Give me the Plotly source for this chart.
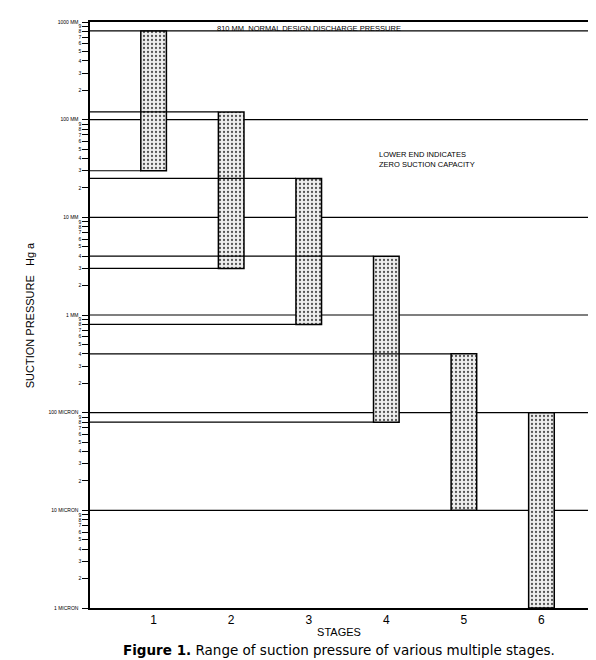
import numpy as np
import plotly.graph_objects as go

# pressure ranges per stage, in mm Hg abs
stages = [1, 2, 3, 4, 5, 6]
upper = [810, 120, 25, 4, 0.4, 0.1]
lower = [30, 3, 0.8, 0.08, 0.01, 0.001]
decades = [1000, 100, 10, 1, 0.1, 0.01, 0.001]
decade_labels = ["1000 MM", "100 MM", "10 MM", "1 MM", "100 MICRON", "10 MICRON", "1 MICRON"]
design_pressure = 810

tickvals, ticktext = [], []
for d, lab in zip(decades, decade_labels):
    tickvals.append(d)
    ticktext.append(lab + "  ")
    if d < 1000:
        for m in range(2, 10):
            tickvals.append(d * m)
            ticktext.append(str(m))

fig = go.Figure()

# leader lines from the axis to each bar end (drawn first so bars cover them)
for s, u, l in zip(stages, upper, lower):
    for v in (u, l):
        if v in decades or v == design_pressure:
            continue
        fig.add_trace(go.Scatter(x=[0.18, s - 0.165], y=[v, v], mode="lines",
                                 line=dict(color="black", width=1.2), hoverinfo="skip"))

fig.add_trace(go.Bar(
    x=stages, y=[u - l for u, l in zip(upper, lower)], base=lower, width=0.33,
    marker=dict(color="#eeeeee", line=dict(color="black", width=1.5),
                pattern=dict(shape=".", fgcolor="#555555", bgcolor="#eeeeee",
                             fillmode="replace", size=4, solidity=0.25)),
    hoverinfo="skip",
))

# full-width decade lines and the design pressure line
for v in decades[1:-1] + [design_pressure]:
    fig.add_shape(type="line", xref="paper", x0=0, x1=1, y0=v, y1=v,
                  line=dict(color="black", width=1.2), layer="below")

fig.update_layout(
    width=596, height=660,
    margin=dict(l=82, r=16, t=14, b=60),
    plot_bgcolor="white", paper_bgcolor="white",
    showlegend=False,
    font=dict(family="Liberation Sans", color="black"),
    xaxis=dict(range=[0.18, 6.6], tickvals=stages, ticks="", showgrid=False,
               showline=True, linecolor="black", linewidth=1.5, mirror=True,
               tickfont=dict(size=12), automargin=False,
               title=dict(text="STAGES", font=dict(size=11), standoff=2)),
    yaxis=dict(type="log", range=[-3, 3], tickvals=tickvals, ticktext=ticktext,
               ticks="outside", ticklen=6, tickcolor="black", showgrid=False,
               showline=True, linecolor="black", linewidth=1.5, mirror=True,
               tickfont=dict(size=5), automargin=False),
    annotations=[
        dict(text="SUCTION PRESSURE   Hg a", x=22, y=0.5, xref="paper", yref="paper",
             textangle=-90, showarrow=False, font=dict(size=11), xanchor="center"),
        dict(text="810 MM  NORMAL DESIGN DISCHARGE PRESSURE", x=0.25, y=1.0,
             xref="paper", yref="paper", xanchor="left", yanchor="top",
             showarrow=False, font=dict(size=7.5)),
        dict(text="LOWER END INDICATES<br>ZERO SUCTION CAPACITY", x=0.577, y=0.785,
             xref="paper", yref="paper", xanchor="left", yanchor="top", align="left",
             showarrow=False, font=dict(size=7.5)),
        dict(text="<b>Figure 1.</b> Range of suction pressure of various multiple stages.",
             x=0.5, y=-0.055, xref="paper", yref="paper", xanchor="center", yanchor="top",
             showarrow=False, font=dict(size=13.5, family="DejaVu Sans")),
    ],
)
# place the y title in pixels left of the axis
fig.layout.annotations[0].update(x=-0.12)

fig.write_html("out.html")
